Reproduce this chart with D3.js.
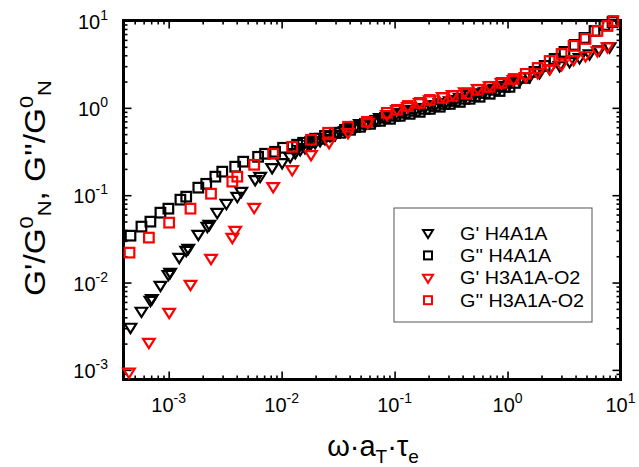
<!DOCTYPE html>
<html>
<head>
<meta charset="utf-8">
<script src="https://cdn.jsdelivr.net/npm/d3@7"></script>
<style>
  body { margin: 0; background: #fff; }
  svg { display: block; font-family: "Liberation Sans", Arial, sans-serif; }
</style>
</head>
<body>
<div id="chart"></div>
<script>
// G' H4A1A (black triangles), two overlapping sweeps
var h4GpX = [4.59e-4, 5.74e-4, 6.89e-4, 7.1e-4, 8.45e-4, 9.94e-4, 1.03e-3, 1.24e-3, 1.43e-3, 1.49e-3,
  1.83e-3, 2.20e-3, 2.29e-3, 2.69e-3, 3.24e-3, 4.05e-3, 4.39e-3, 5.83e-3, 6.45e-3, 8.24e-3,
  1.01e-2, 1.19e-2, 1.46e-2, 1.79e-2, 2.19e-2, 2.68e-2, 3.29e-2, 4.03e-2, 4.93e-2, 6.05e-2,
  7.41e-2, 9.10e-2, 0.111, 0.136, 0.167, 0.205, 0.251, 0.308, 0.378, 0.462,
  0.566, 0.695, 0.851, 1.04, 1.28, 1.57, 1.92, 2.36, 2.89, 3.54, 4.34, 5.32, 6.51, 8.00,
  1.32e-2, 1.61e-2, 1.98e-2, 2.42e-2, 2.97e-2, 3.64e-2, 4.46e-2, 5.47e-2, 6.70e-2, 8.21e-2,
  0.101, 0.123, 0.151, 0.185, 0.227, 0.278, 0.341, 0.418, 0.513, 0.628, 0.770, 0.943];
var h4GpY = [3.06e-3, 4.67e-3, 6.22e-3, 6.5e-3, 9.25e-3, 0.0123, 0.0130, 0.0193, 0.0232, 0.0245,
  0.0354, 0.0437, 0.046, 0.0631, 0.080, 0.0962, 0.110, 0.150, 0.163, 0.206,
  0.235, 0.275, 0.331, 0.378, 0.42, 0.478, 0.532, 0.591, 0.656, 0.710,
  0.769, 0.811, 0.877, 0.948, 1.00, 1.08, 1.14, 1.20, 1.30, 1.41,
  1.48, 1.61, 1.69, 1.88, 2.04, 2.26, 2.51, 2.79, 3.02, 3.36, 3.73, 4.14, 4.60, 4.98,
  0.306, 0.349, 0.398, 0.443, 0.491, 0.546, 0.591, 0.640, 0.692, 0.749,
  0.811, 0.877, 0.924, 1.00, 1.05, 1.11, 1.20, 1.30, 1.41, 1.52, 1.65, 1.78];

// G'' H4A1A (black squares), two overlapping sweeps
var h4GppX = [4.59e-4, 5.74e-4, 6.89e-4, 8.45e-4, 9.94e-4, 1.27e-3, 1.43e-3, 1.83e-3, 2.15e-3, 2.59e-3,
  2.98e-3, 3.88e-3, 4.57e-3, 6.19e-3, 7.14e-3, 8.75e-3, 1.03e-2, 1.37e-2, 1.55e-2, 1.98e-2,
  2.42e-2, 2.97e-2, 3.64e-2, 4.46e-2, 5.47e-2, 6.70e-2, 8.21e-2, 0.101, 0.123, 0.151,
  0.185, 0.227, 0.278, 0.341, 0.418, 0.513, 0.628, 0.770, 0.943, 1.16,
  1.42, 1.73, 2.13, 2.61, 3.19, 3.93, 4.80, 5.89, 7.21, 8.50,
  1.79e-2, 2.19e-2, 2.68e-2, 3.29e-2, 4.03e-2, 4.93e-2, 6.05e-2, 7.41e-2, 9.10e-2, 0.111,
  0.136, 0.167, 0.205, 0.251, 0.308, 0.378, 0.462, 0.566, 0.695, 0.851, 1.04];
var h4GppY = [0.0344, 0.0437, 0.0498, 0.0631, 0.0701, 0.0889, 0.0962, 0.122, 0.135, 0.163,
  0.186, 0.212, 0.242, 0.275, 0.298, 0.314, 0.349, 0.378, 0.398, 0.443,
  0.478, 0.518, 0.561, 0.607, 0.656, 0.710, 0.769, 0.811, 0.877, 0.924,
  0.974, 1.05, 1.11, 1.20, 1.27, 1.37, 1.48, 1.61, 1.74, 1.93,
  2.20, 2.58, 3.02, 3.63, 4.37, 5.25, 6.31, 7.59, 8.89, 9.61,
  0.408, 0.443, 0.478, 0.518, 0.561, 0.607, 0.656, 0.710, 0.749, 0.811,
  0.854, 0.900, 0.974, 1.03, 1.11, 1.17, 1.27, 1.34, 1.45, 1.56, 1.74];

// G' H3A1A-O2 (red triangles)
var h3GpX = [4.45e-4, 6.68e-4, 1.01e-3, 1.56e-3, 2.37e-3, 3.66e-3, 3.88e-3, 5.71e-3, 8.41e-3, 1.24e-2,
  1.82e-2, 2.63e-2, 3.87e-2, 5.79e-2, 8.55e-2, 0.105, 0.131, 0.167, 0.205, 0.267,
  0.327, 0.418, 0.545, 0.695, 0.885, 1.13, 1.45, 1.85, 2.36, 3.01, 3.84, 4.90, 6.25, 7.67];
var h3GpY = [9.36e-4, 2.06e-3, 4.54e-3, 9.48e-3, 0.0188, 0.0327, 0.0393, 0.0720, 0.125, 0.195,
  0.29, 0.398, 0.518, 0.674, 0.832, 0.948, 1.03, 1.14, 1.23, 1.34,
  1.41, 1.52, 1.65, 1.78, 1.93, 2.09, 2.26, 2.51, 2.79, 3.10, 3.54, 3.93, 4.48, 4.98];

// G'' H3A1A-O2 (red squares)
var h3GppX = [4.50e-4, 6.68e-4, 1.01e-3, 1.56e-3, 2.37e-3, 3.66e-3, 4.05e-3, 5.71e-3, 8.41e-3, 1.24e-2,
  1.82e-2, 2.58e-2, 3.87e-2, 5.69e-2, 8.55e-2, 0.105, 0.131, 0.167, 0.205, 0.267,
  0.327, 0.435, 0.545, 0.695, 0.885, 1.13, 1.45, 1.85, 2.36, 3.01, 3.84, 4.90, 6.25, 7.67, 8.65];
var h3GppY = [0.0220, 0.0327, 0.0485, 0.0701, 0.104, 0.143, 0.163, 0.223, 0.298, 0.358,
  0.431, 0.518, 0.607, 0.692, 0.877, 0.948, 1.05, 1.14, 1.23, 1.30,
  1.37, 1.45, 1.61, 1.74, 1.93, 2.14, 2.45, 2.86, 3.44, 4.14, 5.12, 6.15, 7.59, 8.65, 9.87];

var tickValues = [1e-3, 1e-2, 1e-1, 1, 10];
var tickExps = ["-3", "-2", "-1", "0", "1"];
var legendLabels = ["G' H4A1A", "G'' H4A1A", "G' H3A1A-O2", "G'' H3A1A-O2"];

// set dimensions
var width = 639, height = 467;
var plotLeft = 123.5, plotRight = 620.5, plotTop = 20.5, plotBottom = 379.5;

var svg = d3.select("#chart").append("svg")
  .attr("width", width)
  .attr("height", height);

var x = d3.scaleLog().domain([Math.pow(10, -3.4), 10]).range([plotLeft, plotRight]);
var y = d3.scaleLog().domain([Math.pow(10, -3.11), 10]).range([plotBottom, plotTop]);

// minor tick positions 2..9 per decade
var xMinor = [], yMinor = [];
for (var e = -4; e <= 0; e++) {
  for (var k = 2; k <= 9; k++) {
    var v = k * Math.pow(10, e);
    if (v > x.domain()[0] && v < 10) xMinor.push(v);
    if (v > y.domain()[0] && v < 10) yMinor.push(v);
  }
}

function drawAxis(axisFn, scale, pos, vals, size) {
  var g = svg.append("g")
    .attr("transform", pos)
    .call(axisFn(scale).tickValues(vals).tickSize(size).tickFormat(""));
  g.select(".domain").remove();
  g.selectAll("line").attr("stroke", "#000").attr("stroke-width", 1.6);
}
drawAxis(d3.axisBottom, x, "translate(0," + plotBottom + ")", tickValues, -8);
drawAxis(d3.axisBottom, x, "translate(0," + plotBottom + ")", xMinor, -4);
drawAxis(d3.axisTop, x, "translate(0," + plotTop + ")", tickValues, -8);
drawAxis(d3.axisTop, x, "translate(0," + plotTop + ")", xMinor, -4);
drawAxis(d3.axisLeft, y, "translate(" + plotLeft + ",0)", tickValues, -8);
drawAxis(d3.axisLeft, y, "translate(" + plotLeft + ",0)", yMinor, -4);
drawAxis(d3.axisRight, y, "translate(" + plotRight + ",0)", tickValues, -8);
drawAxis(d3.axisRight, y, "translate(" + plotRight + ",0)", yMinor, -4);

// frame
svg.append("rect")
  .attr("x", plotLeft).attr("y", plotTop)
  .attr("width", plotRight - plotLeft).attr("height", plotBottom - plotTop)
  .attr("fill", "none").attr("stroke", "#000").attr("stroke-width", 3);

// tick labels
tickValues.forEach(function(v, i) {
  var t = svg.append("text")
    .attr("x", x(v)).attr("y", plotBottom + 32)
    .attr("text-anchor", "middle")
    .style("font-size", "20px");
  t.append("tspan").text("10");
  t.append("tspan").attr("dy", -9).style("font-size", "14px").text(tickExps[i]);

  var t2 = svg.append("text")
    .attr("x", 108).attr("y", y(v) + 8)
    .attr("text-anchor", "end")
    .style("font-size", "20px");
  t2.append("tspan").text("10");
  t2.append("tspan").attr("dy", -9).style("font-size", "14px").text(tickExps[i]);
});

// markers
var triPath = "M-5.8,-3.7L5.8,-3.7L0,5.6Z";
function drawTri(xs, ys, color) {
  svg.append("g").selectAll("path")
    .data(xs)
    .enter()
    .append("path")
      .attr("d", triPath)
      .attr("transform", function(d, i) { return "translate(" + x(d) + "," + y(ys[i]) + ")"; })
      .attr("fill", "none")
      .attr("stroke", color)
      .attr("stroke-width", 2.2);
}
function drawSq(xs, ys, color) {
  svg.append("g").selectAll("rect")
    .data(xs)
    .enter()
    .append("rect")
      .attr("x", function(d) { return x(d) - 4.8; })
      .attr("y", function(d, i) { return y(ys[i]) - 4.8; })
      .attr("width", 9.6).attr("height", 9.6)
      .attr("fill", "none")
      .attr("stroke", color)
      .attr("stroke-width", 2.2);
}
drawTri(h4GpX, h4GpY, "#000");
drawSq(h4GppX, h4GppY, "#000");
drawTri(h3GpX, h3GpY, "#f00");
drawSq(h3GppX, h3GppY, "#f00");

// legend
var lg = svg.append("g");
lg.append("rect")
  .attr("x", 394).attr("y", 208).attr("width", 198).attr("height", 114)
  .attr("fill", "#fff").attr("stroke", "#555").attr("stroke-width", 1);
var legendColors = ["#000", "#000", "#f00", "#f00"];
var legendShapes = ["tri", "sq", "tri", "sq"];
legendLabels.forEach(function(lab, i) {
  var ly = 233 + i * 22.4;
  if (legendShapes[i] === "tri") {
    lg.append("path").attr("d", "M-5,-3L5,-3L0,5Z")
      .attr("transform", "translate(428," + ly + ")")
      .attr("fill", "none").attr("stroke", legendColors[i]).attr("stroke-width", 2);
  } else {
    lg.append("rect").attr("x", 424).attr("y", ly - 4).attr("width", 8).attr("height", 8)
      .attr("fill", "none").attr("stroke", legendColors[i]).attr("stroke-width", 2);
  }
  lg.append("text")
    .attr("transform", "translate(460," + (ly + 6.5) + ") scale(1.1,1)")
    .style("font-size", "18px")
    .text(lab);
});

// y axis title
var yt = svg.append("text")
  .attr("transform", "translate(45,188) rotate(-90) scale(1.15,1)")
  .attr("text-anchor", "middle")
  .style("font-size", "29px");
yt.append("tspan").text("G'/G");
yt.append("tspan").attr("dy", -12).style("font-size", "19px").text("0");
yt.append("tspan").attr("dy", 18).style("font-size", "19px").text("N");
yt.append("tspan").attr("dy", -6).text(", G''/G");
yt.append("tspan").attr("dy", -12).style("font-size", "19px").text("0");
yt.append("tspan").attr("dy", 18).style("font-size", "19px").text("N");

// x axis title
var xt = svg.append("text")
  .attr("x", 373).attr("y", 456)
  .attr("text-anchor", "middle")
  .style("font-size", "29px");
xt.append("tspan").text("\u03c9\u00b7a");
xt.append("tspan").attr("dy", 7).style("font-size", "19px").text("T");
xt.append("tspan").attr("dy", -7).text("\u00b7\u03c4");
xt.append("tspan").attr("dy", 7).style("font-size", "19px").text("e");
</script>
</body>
</html>
